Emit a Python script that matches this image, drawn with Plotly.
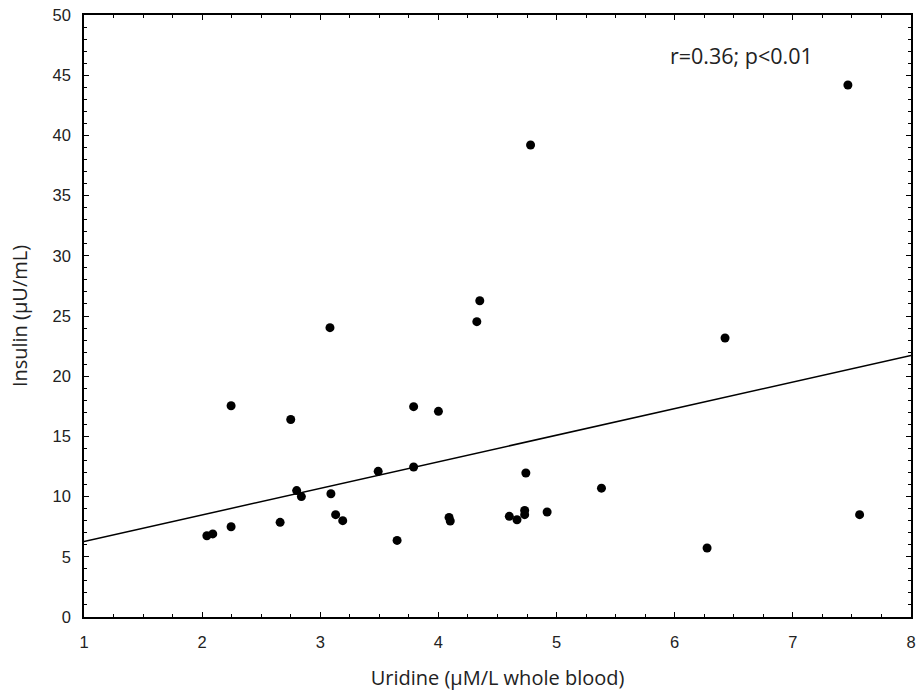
import numpy as np
import plotly.graph_objects as go

uridine = [2.04, 2.09, 2.245, 2.245, 2.66, 2.75, 2.80, 2.84, 3.082, 3.09, 3.13, 3.19,
           3.49, 3.65, 3.79, 3.79, 4.00, 4.09, 4.10, 4.325, 4.35, 4.60, 4.665, 4.73,
           4.73, 4.74, 4.78, 4.92, 5.38, 6.274, 6.426, 7.466, 7.565]
insulin = [6.75, 6.9, 17.55, 7.5, 7.86, 16.4, 10.5, 10.0, 24.03, 10.24, 8.5, 8.0,
           12.1, 6.36, 17.47, 12.46, 17.08, 8.27, 7.97, 24.53, 26.27, 8.36, 8.08, 8.85,
           8.5, 11.96, 39.2, 8.72, 10.7, 5.73, 23.17, 44.19, 8.5]

fit_x = [1, 8]
fit_y = [6.27, 21.72]

x_ticks = [1, 2, 3, 4, 5, 6, 7, 8]
y_ticks = [0, 5, 10, 15, 20, 25, 30, 35, 40, 45, 50]
stat_text = "r=0.36; p<0.01"

fig = go.Figure()
fig.add_trace(go.Scatter(x=fit_x, y=fit_y, mode="lines",
                         line=dict(color="black", width=1.5), showlegend=False,
                         hoverinfo="skip"))
fig.add_trace(go.Scatter(x=uridine, y=insulin, mode="markers",
                         marker=dict(color="black", size=9), showlegend=False))

axis_common = dict(showline=True, linecolor="black", linewidth=1.5, mirror="ticks",
                   ticks="inside", ticklen=5, tickcolor="black", tickwidth=1,
                   showgrid=False, zeroline=False, automargin=False,
                   ticklabeloverflow="allow",
                   tickfont=dict(family="Liberation Sans, Arial", size=16.5, color="#222"))

title_font = dict(family="Open Sans, Liberation Sans", size=20, color="#222")

fig.update_xaxes(range=[1, 8], tickvals=x_ticks, ticktext=[str(v) for v in x_ticks],
                 ticklabelstandoff=9,
                 minor=dict(dtick=0.25, ticks="inside", ticklen=3, tickcolor="black", showgrid=False),
                 title=dict(text="Uridine (µM/L whole blood)", standoff=21, font=title_font),
                 **axis_common)
fig.update_yaxes(range=[0, 50], tickvals=y_ticks, ticktext=[str(v) for v in y_ticks],
                 ticklabelstandoff=8,
                 minor=dict(dtick=1, ticks="inside", ticklen=3, tickcolor="black", showgrid=False),
                 title=dict(text="Insulin (µU/mL)", standoff=20, font=title_font),
                 **axis_common)

fig.add_annotation(x=5.94, y=46.6, xref="x", yref="y", text=stat_text, showarrow=False,
                   xanchor="left", yanchor="middle",
                   font=dict(family="Open Sans, Liberation Sans", size=21.5, color="#222"))

fig.update_layout(width=922, height=696, plot_bgcolor="white", paper_bgcolor="white",
                  margin=dict(l=84, r=11, t=15, b=79))

fig.write_html("out.html", config={"displayModeBar": False},
               post_script="document.body.style.margin='0';")
